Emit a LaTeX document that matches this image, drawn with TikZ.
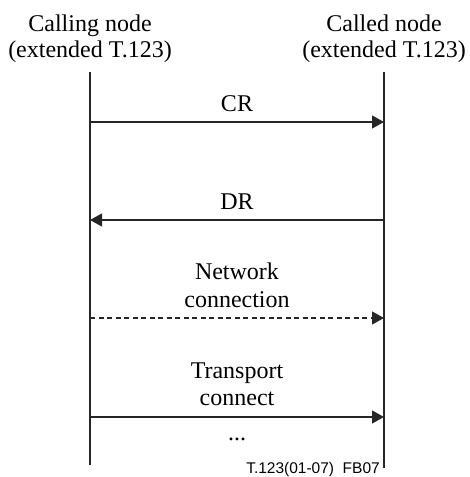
\documentclass[tikz,border=0pt]{standalone}
\usepackage{fontspec}
\setmainfont{Liberation Serif}
\newfontfamily\footfont{Liberation Sans}
\usetikzlibrary{arrows.meta}
\begin{document}
\begin{tikzpicture}[x=1pt,y=-1pt,
  lbl/.style={anchor=base,inner sep=0pt,font=\fontsize{24}{28}\selectfont},
  life/.style={line width=1.2pt,draw=black!85},
  msg/.style={line width=1.2pt,draw=black!85,-{Triangle[length=12pt,width=13pt]}},
  dmsg/.style={msg,dash pattern=on 5pt off 3.5pt}]
\useasboundingbox (0,0) rectangle (469,477);
% headers
\node[lbl] (h1a) at (90,31) {Calling node};
\node[lbl] (h1b) at (90,57) {(extended T.123)};
\node[lbl] (h2a) at (384,31) {Called node};
\node[lbl] (h2b) at (384,57) {(extended T.123)};
% lifelines
\coordinate (Lt) at (90,72);
\coordinate (Lb) at (90,465);
\coordinate (Rt) at (384,72);
\coordinate (Rb) at (384,468);
\draw[life] (Lt) -- (Lb);
\draw[life] (Rt) -- (Rb);
% messages
\coordinate (cr1) at (90,122);  \coordinate (cr2) at (384,122);
\coordinate (dr1) at (384,220); \coordinate (dr2) at (90,220);
\coordinate (nc1) at (90,318);  \coordinate (nc2) at (384,318);
\coordinate (tc1) at (90,417);  \coordinate (tc2) at (384,417);
\node[lbl] (cr) at (237,111) {CR};
\draw[msg] (cr1) -- (cr2);
\node[lbl] (dr) at (237,209) {DR};
\draw[msg] (dr1) -- (dr2);
\node[lbl] (nc) at (237,279) {Network};
\node[lbl] (nc') at (237,307) {connection};
\draw[dmsg] (nc1) -- (nc2);
\node[lbl] (tc) at (237,378) {Transport};
\node[lbl] (tc') at (237,405) {connect};
\draw[msg] (tc1) -- (tc2);
\node[lbl] (dots) at (237,440) {...};
% footer
\node[anchor=base east,inner sep=0pt,font=\footfont\fontsize{15.5}{18}\selectfont] (ft) at (380,473) {T.123(01-07)\ \ FB07};
\end{tikzpicture}
\end{document}
